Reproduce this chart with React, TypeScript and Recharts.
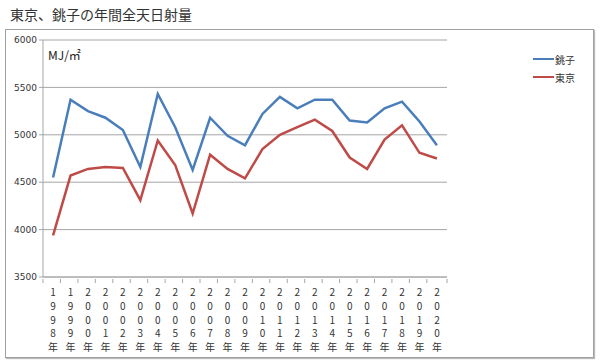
import { CartesianGrid, Legend, Line, LineChart, XAxis, YAxis } from 'recharts';

const years = [
  '1998', '1999', '2000', '2001', '2002', '2003', '2004', '2005', '2006', '2007', '2008', '2009',
  '2010', '2011', '2012', '2013', '2014', '2015', '2016', '2017', '2018', '2019', '2020',
];
const choshi = [
  4550, 5370, 5250, 5180, 5050, 4660, 5430, 5080, 4630, 5180, 4990, 4890,
  5220, 5400, 5280, 5370, 5370, 5150, 5130, 5280, 5350, 5140, 4890,
];
const tokyo = [
  3940, 4570, 4640, 4660, 4650, 4310, 4940, 4680, 4170, 4790, 4640, 4540,
  4850, 5000, 5080, 5160, 5040, 4760, 4640, 4950, 5100, 4810, 4750,
];
const yTicks = [3500, 4000, 4500, 5000, 5500, 6000];

const data = years.map((y, i) => ({ year: y + '年', 銚子: choshi[i], 東京: tokyo[i] }));

const BLUE = '#4a7ebb';
const RED = '#be4b48';
const GRID = '#a6a6a6';
const BAND = 464 / years.length;

function YearTick(props: any) {
  const { x, y, payload, index } = props;
  const chars = String(payload.value).split('');
  const axisY = y - 6;
  return (
    <g>
      <line x1={x - BAND / 2} x2={x - BAND / 2} y1={axisY} y2={axisY + 4} stroke={GRID} />
      {index === years.length - 1 && (
        <line x1={x + BAND / 2} x2={x + BAND / 2} y1={axisY} y2={axisY + 4} stroke={GRID} />
      )}
      <text x={x} y={axisY + 17} textAnchor="middle" fontSize={10} fill="#333" fontFamily="'Noto Sans CJK JP', sans-serif">
        {chars.map((c, i) => (
          <tspan key={i} x={x} dy={i === 0 ? 0 : 13.8}>
            {c}
          </tspan>
        ))}
      </text>
    </g>
  );
}

function LegendBox() {
  const items = [
    { name: '銚子', color: BLUE },
    { name: '東京', color: RED },
  ];
  return (
    <div style={{ fontSize: 10, color: '#333', fontFamily: "'Noto Sans CJK JP', sans-serif" }}>
      {items.map((it) => (
        <div key={it.name} style={{ display: 'flex', alignItems: 'center', height: 18 }}>
          <div style={{ width: 21, height: 2.5, background: it.color }} />
          <span style={{ marginLeft: 1 }}>{it.name}</span>
        </div>
      ))}
    </div>
  );
}

export default function App() {
  return (
    <div style={{ position: 'absolute', left: 0, top: 0, width: 600, height: 362, background: '#fff', fontFamily: "'Noto Sans CJK JP', sans-serif" }}>
      <div style={{ position: 'absolute', left: 10, top: 4, fontSize: 14, color: '#333', lineHeight: '20px' }}>
        東京、銚子の年間全天日射量
      </div>
      <div
        style={{
          position: 'absolute',
          left: 5,
          top: 29,
          width: 587,
          height: 327,
          border: '1px solid #a0a0a0',
          boxShadow: '1px 1px 1px #bbb',
        }}
      />
      <div style={{ position: 'absolute', left: 48, top: 46, fontSize: 12, color: '#222' }}>MJ/㎡</div>
      <div style={{ position: 'absolute', left: 0, top: 0 }}>
        <LineChart width={600} height={362} data={data} margin={{ top: 40, right: 93, bottom: 5, left: 5 }}>
          <CartesianGrid vertical={false} stroke={GRID} />
          <XAxis
            dataKey="year"
            interval={0}
            padding={{ left: BAND / 2, right: BAND / 2 }}
            stroke={GRID}
            tickLine={false}
            height={80}
            tick={<YearTick />}
          />
          <YAxis
            domain={[3500, 6000]}
            ticks={yTicks}
            width={38}
            stroke={GRID}
            tickSize={4}
            tick={{ fontSize: 9, fill: '#333', fontFamily: "'DejaVu Sans', sans-serif" }}
          />
          <Legend
            layout="vertical"
            verticalAlign="top"
            align="right"
            wrapperStyle={{ position: 'absolute', left: 533, top: 50, width: 60 }}
            content={<LegendBox />}
          />
          <Line dataKey="銚子" stroke={BLUE} strokeWidth={2.5} dot={false} isAnimationActive={false} />
          <Line dataKey="東京" stroke={RED} strokeWidth={2.5} dot={false} isAnimationActive={false} />
        </LineChart>
      </div>
    </div>
  );
}
